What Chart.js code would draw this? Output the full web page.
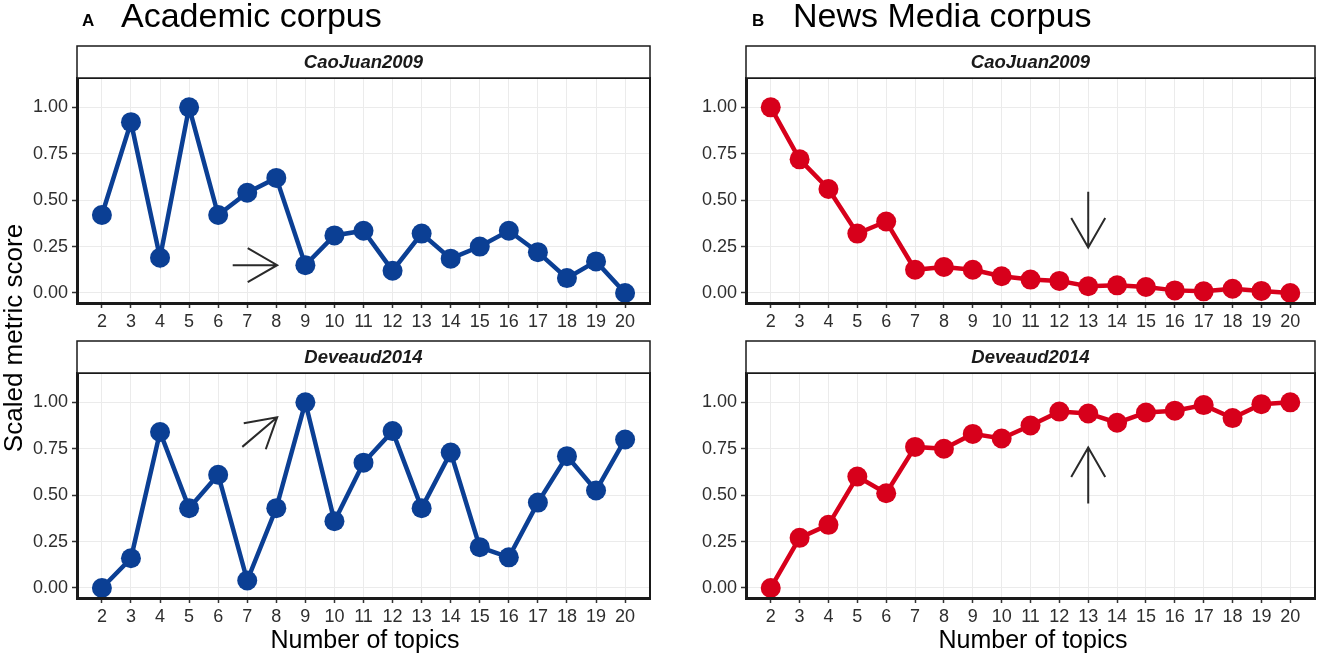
<!DOCTYPE html>
<html>
<head>
<meta charset="utf-8">
<script src="https://cdn.jsdelivr.net/npm/chart.js@4.4.0/dist/chart.umd.min.js"></script>
<style>
  html, body { margin: 0; padding: 0; background: #fff; }
  #fig { position: relative; width: 1325px; height: 654px; overflow: hidden;
         font-family: 'Liberation Sans', Arial, sans-serif; color: #000; }
  #fig canvas { position: absolute; }
  .tag   { position: absolute; top: 12px; font-size: 17px; line-height: 17px; font-weight: bold; }
  .title { position: absolute; top: -2px; font-size: 34px; line-height: 34px; white-space: nowrap; }
  .xlab  { position: absolute; top: 627px; width: 400px; text-align: center;
           font-size: 25px; line-height: 25px; }
  .ylab  { position: absolute; left: -137px; top: 325px; width: 300px; height: 26px; text-align: center;
           font-size: 26px; line-height: 26px; transform: rotate(-90deg); }
</style>
</head>
<body>
<div id="fig">
  <canvas id="cAcadCao"  width="660" height="330" style="left:0;top:0"></canvas>
  <canvas id="cAcadDev"  width="660" height="324" style="left:0;top:330px"></canvas>
  <canvas id="cNewsCao"  width="665" height="330" style="left:660px;top:0"></canvas>
  <canvas id="cNewsDev"  width="665" height="324" style="left:660px;top:330px"></canvas>

  <div class="tag" style="left:82px">A</div>
  <div class="title" style="left:121px">Academic corpus</div>
  <div class="tag" style="left:752px">B</div>
  <div class="title" style="left:793px">News Media corpus</div>

  <div class="ylab">Scaled metric score</div>
  <div class="xlab" style="left:165px">Number of topics</div>
  <div class="xlab" style="left:833px">Number of topics</div>
</div>

<script>
'use strict';

// ── DATA ────────────────────────────────────────────────────────
var topics   = [2, 3, 4, 5, 6, 7, 8, 9, 10, 11, 12, 13, 14, 15, 16, 17, 18, 19, 20];
var yTicks   = [0, 0.25, 0.5, 0.75, 1];

var acadCao  = [0.42, 0.92, 0.19, 1.00, 0.42, 0.54, 0.62, 0.15, 0.31, 0.335,
                0.12, 0.32, 0.185, 0.25, 0.335, 0.22, 0.08, 0.17, 0.00];
var acadDev  = [0.00, 0.16, 0.84, 0.43, 0.61, 0.04, 0.43, 1.00, 0.36, 0.675,
                0.845, 0.43, 0.73, 0.22, 0.165, 0.46, 0.71, 0.525, 0.80];
var newsCao  = [1.00, 0.72, 0.56, 0.32, 0.385, 0.125, 0.14, 0.125, 0.09, 0.072,
                0.065, 0.036, 0.041, 0.032, 0.014, 0.009, 0.023, 0.011, 0.00];
var newsDev  = [0.00, 0.27, 0.34, 0.60, 0.51, 0.76, 0.75, 0.83, 0.805, 0.875,
                0.95, 0.94, 0.89, 0.945, 0.955, 0.985, 0.915, 0.99, 1.00];

// arrows marking the chosen number of topics: [xFrom, yFrom, xTo, yTo]
var arrowAcadCao = [6.5, 0.15, 8.03, 0.15];
var arrowAcadDev = [6.83, 0.76, 8.03, 0.92];
var arrowNewsCao = [13, 0.545, 13, 0.245];
var arrowNewsDev = [13, 0.455, 13, 0.757];

var BLUE = '#0B3F94';
var RED  = '#D7001B';
var FONT = "'Liberation Sans', Arial, sans-serif";

// ── PLUGIN: strip header, frame, arrow ──────────────────────────
var facetPlugin = {
  id: 'facet',
  afterDatasetsDraw: function (chart) {
    var o   = chart.options.plugins.facet;
    var ctx = chart.ctx;
    var a   = chart.chartArea;
    var sx  = chart.scales.x, sy = chart.scales.y;

    // arrow
    if (o.arrow) {
      var x0 = sx.getPixelForValue(o.arrow[0]), y0 = sy.getPixelForValue(o.arrow[1]);
      var x1 = sx.getPixelForValue(o.arrow[2]), y1 = sy.getPixelForValue(o.arrow[3]);
      var ang = Math.atan2(y0 - y1, x0 - x1);
      var len = 34, spread = Math.PI / 6;
      ctx.save();
      ctx.strokeStyle = '#2a2a2a';
      ctx.lineWidth = 2;
      ctx.beginPath();
      ctx.moveTo(x0, y0); ctx.lineTo(x1, y1);
      ctx.moveTo(x1 + len * Math.cos(ang - spread), y1 + len * Math.sin(ang - spread));
      ctx.lineTo(x1, y1);
      ctx.lineTo(x1 + len * Math.cos(ang + spread), y1 + len * Math.sin(ang + spread));
      ctx.stroke();
      ctx.restore();
    }

    ctx.save();
    // panel frame
    ctx.strokeStyle = '#1a1a1a';
    ctx.lineWidth = 2;
    ctx.strokeRect(a.left, a.top, a.right - a.left, a.bottom - a.top);

    // strip
    var h = 32;
    ctx.fillStyle = '#fff';
    ctx.fillRect(a.left, a.top - h, a.right - a.left, h);
    ctx.lineWidth = 1.5;
    ctx.strokeRect(a.left, a.top - h, a.right - a.left, h);
    ctx.fillStyle = '#1a1a1a';
    ctx.font = 'italic bold 18.5px ' + FONT;
    ctx.textAlign = 'center';
    ctx.textBaseline = 'middle';
    ctx.fillText(o.strip, (a.left + a.right) / 2, a.top - h / 2 + 1);
    ctx.restore();
  }
};

// ── PANEL FACTORY ───────────────────────────────────────────────
function makePanel(id, values, color, strip, arrow, yWidth, pad) {
  var ctx = document.getElementById(id).getContext('2d');
  return new Chart(ctx, {
    type: 'line',
    data: {
      datasets: [{
        data: topics.map(function (t, i) { return { x: t, y: values[i] }; }),
        borderColor: color,
        backgroundColor: color,
        borderWidth: 4.5,
        tension: 0,
        pointRadius: 10,
        pointBorderWidth: 0,
        pointBackgroundColor: color,
        clip: false
      }]
    },
    options: {
      responsive: false,
      animation: false,
      devicePixelRatio: 1,
      layout: { padding: pad },
      plugins: {
        legend: { display: false },
        tooltip: { enabled: false },
        facet: { strip: strip, arrow: arrow }
      },
      scales: {
        x: {
          type: 'linear',
          min: 1.143,
          max: 20.857,
          afterBuildTicks: function (s) { s.ticks = topics.map(function (v) { return { value: v }; }); },
          afterFit: function (s) { s.height = 27; },
          ticks: {
            autoSkip: false, maxRotation: 0, padding: 3,
            color: '#2e2e2e',
            font: { family: FONT, size: 18 },
            callback: function (v) { return String(v); }
          },
          grid: { color: '#ebebeb', lineWidth: 1, tickColor: '#333', tickLength: 5, tickWidth: 1.5 },
          border: { color: '#1a1a1a', width: 3 }
        },
        y: {
          type: 'linear',
          min: -0.054,
          max: 1.158,
          afterBuildTicks: function (s) { s.ticks = yTicks.map(function (v) { return { value: v }; }); },
          afterFit: function (s) { s.width = yWidth; },
          ticks: {
            padding: 4,
            color: '#2e2e2e',
            font: { family: FONT, size: 18 },
            callback: function (v) { return Number(v).toFixed(2); }
          },
          grid: { color: '#ebebeb', lineWidth: 1, tickColor: '#333', tickLength: 5, tickWidth: 1.5 },
          border: { color: '#1a1a1a', width: 3 }
        }
      }
    },
    plugins: [facetPlugin]
  });
}

makePanel('cAcadCao', acadCao, BLUE, 'CaoJuan2009', arrowAcadCao, 77, { top: 78, right: 8, bottom: 0, left: 0 });
makePanel('cAcadDev', acadDev, BLUE, 'Deveaud2014', arrowAcadDev, 77, { top: 43, right: 8, bottom: 29, left: 0 });
makePanel('cNewsCao', newsCao, RED,  'CaoJuan2009', arrowNewsCao, 86, { top: 78, right: 5, bottom: 0, left: 0 });
makePanel('cNewsDev', newsDev, RED,  'Deveaud2014', arrowNewsDev, 86, { top: 43, right: 5, bottom: 29, left: 0 });
</script>
</body>
</html>
